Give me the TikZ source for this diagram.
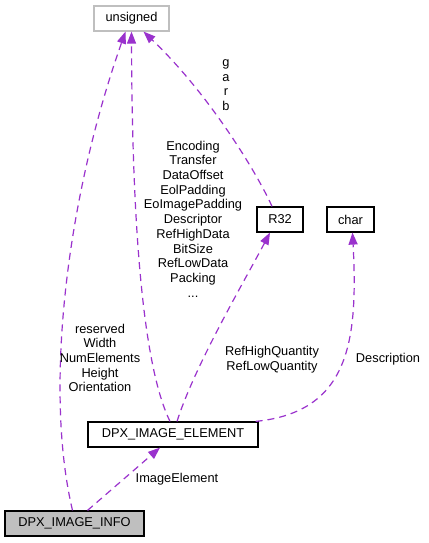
\documentclass[tikz,border=0pt]{standalone}
\usepackage{fontspec}
\setmainfont{Liberation Sans}
\usetikzlibrary{arrows.meta}
\definecolor{edgepurple}{HTML}{9A32CD}
\definecolor{boxgray}{HTML}{BFBFBF}
\begin{document}
\begin{tikzpicture}[x=1pt, y=-1pt,
    every node/.style={font=\fontsize{12.8}{14.7}\selectfont, inner sep=0pt},
    classbox/.style={draw=black, line width=1.2pt, minimum height=25pt, fill=white},
    member/.style={draw=edgepurple, line width=1.2pt, dash pattern=on 7pt off 5pt,
      -{Triangle[length=12pt, width=9pt]}},
    memberlabel/.style={align=center}]
            % frame
            \fill[white] (0,0) rectangle (428,543);
            % classes
            \node[classbox, draw=boxgray, minimum width=75pt] (unsigned) at (131.5,18.5) {unsigned};
            \node[classbox, minimum width=46pt] (r32) at (280,219.5) {R32};
            \node[classbox, minimum width=47pt] (char) at (350.5,219.5) {char};
            \node[classbox, minimum width=170pt] (elem) at (173,434.5) {DPX\_IMAGE\_ELEMENT};
            \node[classbox, fill=boxgray, minimum width=139pt] (info) at (74.5,523.5) {DPX\_IMAGE\_INFO};
            % members of DPX_IMAGE_INFO
            \draw[member] ([xshift=-2pt]info.north) .. controls (44,390) and (66,200) .. ([xshift=-6pt]unsigned.south);
            \draw[member] ([xshift=13pt]info.north) -- ([xshift=-13pt]elem.south);
            % members of DPX_IMAGE_ELEMENT
            \draw[member] ([xshift=-3pt]elem.north) .. controls (140,360) and (132,200) .. (unsigned.south);
            \draw[member] ([xshift=4pt]elem.north) .. controls (195,365) and (245,280) .. ([xshift=-10pt]r32.south);
            \draw[member] ([xshift=-3pt]elem.north east) .. controls (350,412) and (358,340) .. ([xshift=2pt]char.south);
            % member of R32
            \draw[member] ([xshift=-8pt]r32.north) .. controls (258,175) and (210,95) .. ([xshift=12pt]unsigned.south);
            % labels
            \node[memberlabel] (infolabel) at (100,358) {reserved\\Width\\NumElements\\Height\\Orientation};
            \node[memberlabel] (imagelabel) at (177,479) {ImageElement};
            \node[memberlabel] (unsignedlabel) at (193,219) {Encoding\\Transfer\\DataOffset\\EolPadding\\EoImagePadding\\Descriptor\\RefHighData\\BitSize\\RefLowData\\Packing\\...};
            \node[memberlabel] (quantitylabel) at (272,359.5) {RefHighQuantity\\RefLowQuantity};
            \node[memberlabel] (charlabel) at (388,359) {Description};
            \node[memberlabel] (garblabel) at (226,85) {g\\a\\r\\b};
\end{tikzpicture}
\end{document}
